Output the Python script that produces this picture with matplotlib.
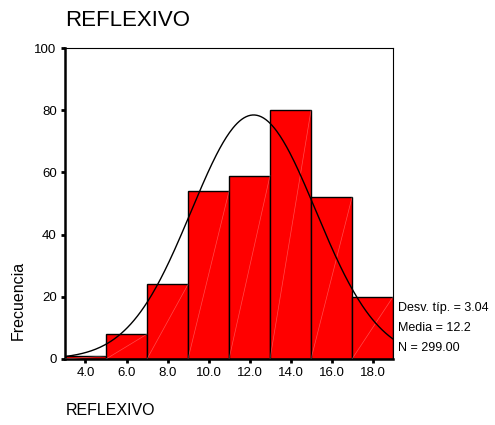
import numpy as np
import matplotlib
matplotlib.use('Agg')
import matplotlib.pyplot as plt

plt.rcParams['font.family'] = ['Liberation Sans', 'DejaVu Sans']

# histogram data (REFLEXIVO)
bin_centers = [4, 6, 8, 10, 12, 14, 16, 18]
counts = [1, 8, 24, 54, 59, 80, 52, 20]
bin_width = 2
x_ticks = [4.0, 6.0, 8.0, 10.0, 12.0, 14.0, 16.0, 18.0]
y_ticks = [0, 20, 40, 60, 80, 100]
sd = 3.04
mean = 12.2
n = 299

fig = plt.figure(figsize=(4.95, 4.25), dpi=100)
ax = fig.add_axes([0.1313, 0.1553, 0.6627, 0.7317])

ax.bar(bin_centers, counts, width=bin_width, color='#ff0000',
       edgecolor='black', linewidth=1.0, zorder=2)

# faint diagonal lines inside the bars (as in the original export)
for c, h in zip(bin_centers, counts):
    ax.plot([c - bin_width / 2, c + bin_width / 2], [0, h],
            color='white', linewidth=0.5, alpha=0.3, zorder=3)

# normal curve
xs = np.linspace(3, 19, 300)
ys = n * bin_width / (sd * np.sqrt(2 * np.pi)) * np.exp(-0.5 * ((xs - mean) / sd) ** 2)
ax.plot(xs, ys, color='black', linewidth=1.0, zorder=4)

ax.set_xlim(3, 19)
ax.set_ylim(0, 100)
ax.set_xticks(x_ticks)
ax.set_xticklabels(['%.1f' % t for t in x_ticks], fontsize=9.5)
ax.set_yticks(y_ticks)
ax.set_yticklabels([str(t) for t in y_ticks], fontsize=9.5)
ax.tick_params(axis='both', direction='out', length=3, width=2, pad=3)

ax.spines['left'].set_linewidth(1.8)
ax.spines['bottom'].set_linewidth(1.8)
ax.spines['top'].set_linewidth(0.8)
ax.spines['right'].set_linewidth(0.8)

fig.text(0.131, 0.952, 'REFLEXIVO', fontsize=16, ha='left', va='center')
fig.text(0.133, 0.035, 'REFLEXIVO', fontsize=11.5, ha='left', va='center')
fig.text(0.037, 0.292, 'Frecuencia', fontsize=11.5, rotation=90, ha='center', va='center')

stats = ['Desv. típ. = %.2f' % sd, 'Media = %.1f' % mean, 'N = %.2f' % n]
for i, s in enumerate(stats):
    fig.text(0.804, 0.275 - i * 0.047, s, fontsize=9, ha='left', va='center')

fig.savefig('out.png', dpi=100)
